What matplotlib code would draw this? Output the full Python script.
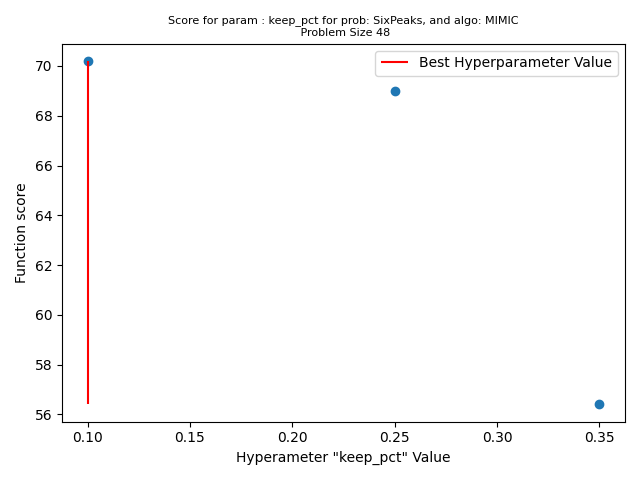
import matplotlib
matplotlib.use("Agg")
import matplotlib.pyplot as plt

param_name = "keep_pct"
param_values = [0.10, 0.25, 0.35]
scores = [70.2, 69.0, 56.4]

best_idx = scores.index(max(scores))

fig, ax = plt.subplots(figsize=(6.4, 4.8), dpi=100)
ax.scatter(param_values, scores)
ax.vlines(param_values[best_idx], min(scores), max(scores), colors="red",
          label="Best Hyperparameter Value")
ax.set_title(f"Score for param : {param_name} for prob: SixPeaks, and algo: MIMIC\n Problem Size 48",
             fontsize=8)
ax.set_xlabel(f'Hyperameter "{param_name}" Value')
ax.set_ylabel("Function score")
ax.legend()
fig.tight_layout()
fig.savefig("out.png")
